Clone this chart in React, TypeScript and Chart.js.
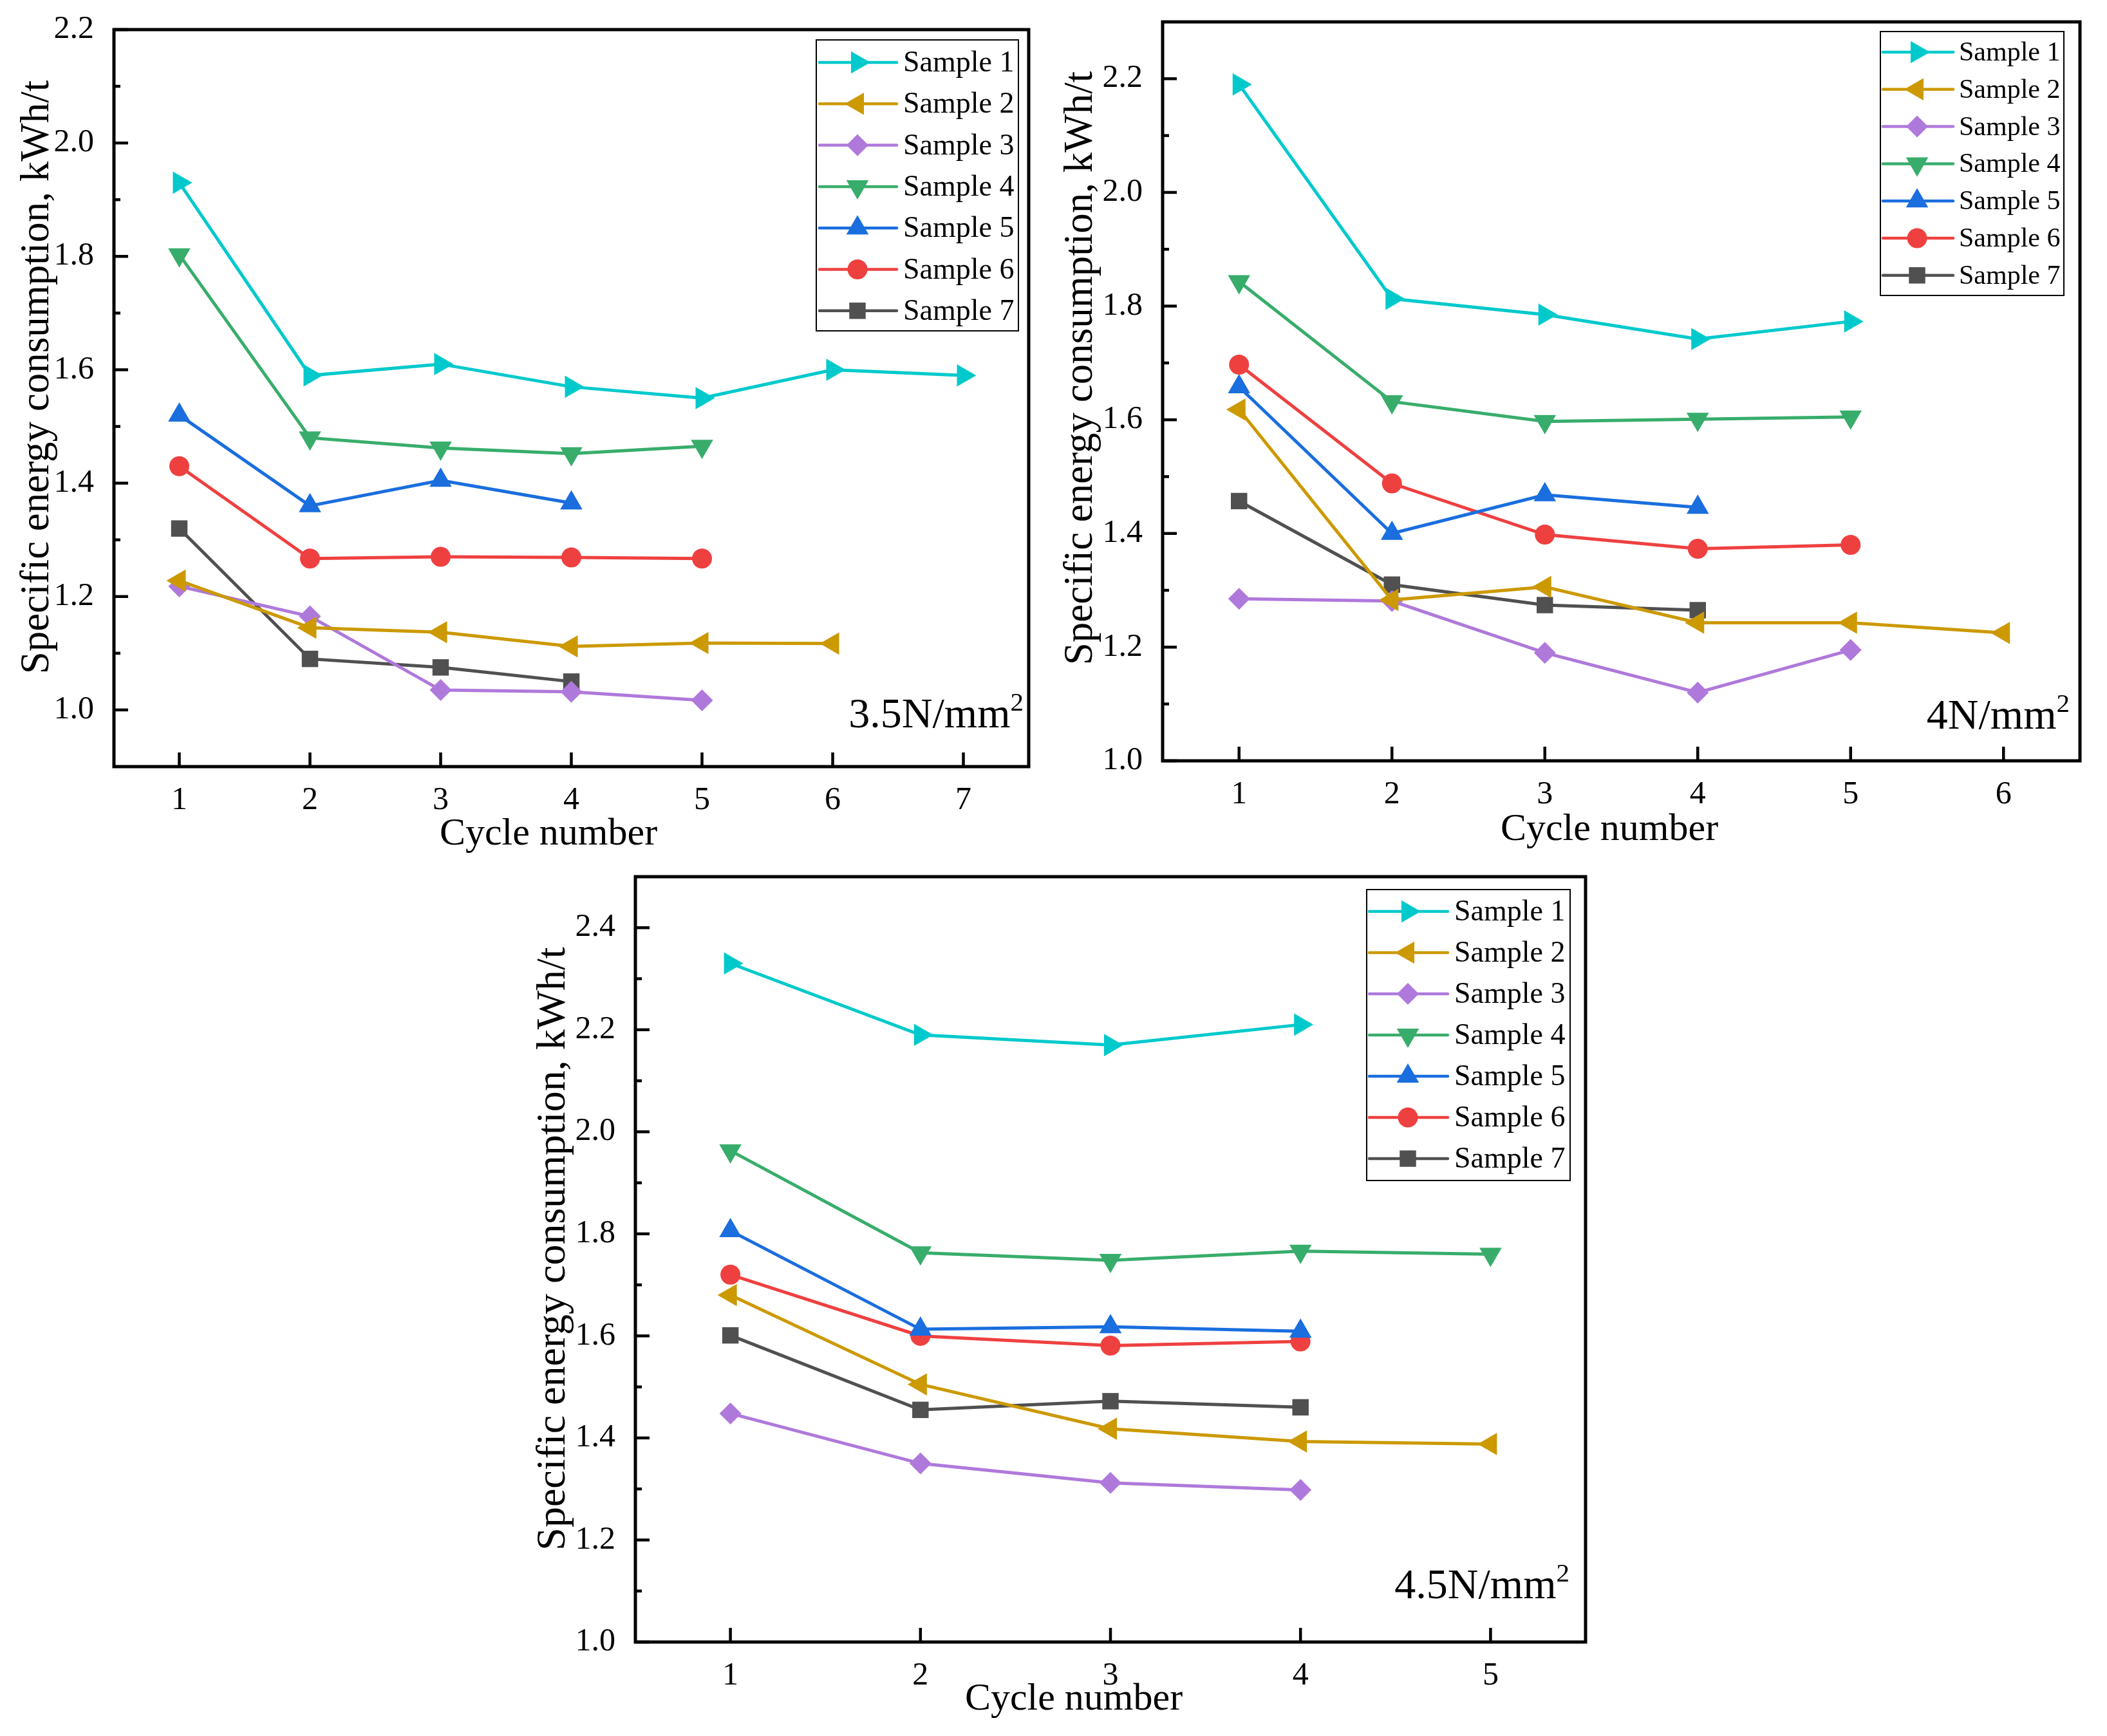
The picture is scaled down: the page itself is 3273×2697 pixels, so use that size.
import React, { useEffect, useRef } from 'react';
import { Chart, registerables } from 'chart.js';

Chart.register(...registerables);

const FONT = "'Liberation Serif', 'Times New Roman', serif";

const SAMPLE_NAMES = ['Sample 1', 'Sample 2', 'Sample 3', 'Sample 4', 'Sample 5', 'Sample 6', 'Sample 7'];
const SAMPLE_COLORS = ['#00C9CC', '#CC9900', '#AF79DB', '#38AD6B', '#1A6EDE', '#EF4040', '#505050'];
const POINT_STYLES = ['triangle', 'triangle', 'rectRot', 'triangle', 'triangle', 'circle', 'rect'];
const POINT_ROTATIONS = [90, -90, 0, 180, 0, 0, 0];
const POINT_RADII = [20, 20, 17, 20, 20, 15.5, 18];

// ---- Panel 1: 3.5 N/mm2 ----
const CYCLES_35 = [1, 2, 3, 4, 5, 6, 7];
const S1_35 = [1.93, 1.59, 1.61, 1.57, 1.55, 1.6, 1.59];
const S2_35 = [1.228, 1.145, 1.137, 1.112, 1.118, 1.117];
const S3_35 = [1.218, 1.165, 1.035, 1.032, 1.017];
const S4_35 = [1.803, 1.48, 1.462, 1.452, 1.465];
const S5_35 = [1.52, 1.36, 1.405, 1.365];
const S6_35 = [1.43, 1.267, 1.27, 1.269, 1.267];
const S7_35 = [1.32, 1.09, 1.075, 1.05];
const Y_TICKS_35 = [1.0, 1.2, 1.4, 1.6, 1.8, 2.0, 2.2];

// ---- Panel 2: 4 N/mm2 ----
const CYCLES_40 = [1, 2, 3, 4, 5, 6];
const S1_40 = [2.19, 1.813, 1.785, 1.742, 1.773];
const S2_40 = [1.618, 1.283, 1.306, 1.243, 1.243, 1.225];
const S3_40 = [1.285, 1.281, 1.19, 1.12, 1.195];
const S4_40 = [1.843, 1.632, 1.597, 1.601, 1.605];
const S5_40 = [1.658, 1.4, 1.468, 1.446];
const S6_40 = [1.697, 1.488, 1.398, 1.373, 1.38];
const S7_40 = [1.457, 1.31, 1.274, 1.265];
const Y_TICKS_40 = [1.0, 1.2, 1.4, 1.6, 1.8, 2.0, 2.2];

// ---- Panel 3: 4.5 N/mm2 ----
const CYCLES_45 = [1, 2, 3, 4, 5];
const S1_45 = [2.33, 2.19, 2.17, 2.21];
const S2_45 = [1.68, 1.505, 1.418, 1.393, 1.388];
const S3_45 = [1.448, 1.35, 1.312, 1.298];
const S4_45 = [1.963, 1.763, 1.748, 1.766, 1.76];
const S5_45 = [1.806, 1.613, 1.618, 1.609];
const S6_45 = [1.72, 1.6, 1.581, 1.589];
const S7_45 = [1.601, 1.455, 1.472, 1.46];
const Y_TICKS_45 = [1.0, 1.2, 1.4, 1.6, 1.8, 2.0, 2.2, 2.4];

const X_TITLE = 'Cycle number';
const Y_TITLE = 'Specific energy consumption, kWh/t';

type Panel = {
  series: number[][];
  cycles: number[];
  yTicks: number[];
  xMax: number;
  yMin: number;
  yMax: number;
  pressure: string;
  // layout (page pixels)
  L: number; T: number; R: number; B: number;
  xAxisH: number;
  xTitle: { cx: number; base: number };
  yTitle: { cx: number; cy: number; size: number };
  legend: { left: number; top: number; right: number; bottom: number; row0: number; dy: number; x0: number; x1: number; mx: number; tx: number; font: number };
  label: { xEnd: number; base: number; size: number };
};

const PANELS: Panel[] = [
  {
    series: [S1_35, S2_35, S3_35, S4_35, S5_35, S6_35, S7_35],
    cycles: CYCLES_35, yTicks: Y_TICKS_35, xMax: 7.5, yMin: 0.9, yMax: 2.2, pressure: '3.5N/mm',
    L: 177, T: 46, R: 1598, B: 1191, xAxisH: 150,
    xTitle: { cx: 852, base: 1312 },
    yTitle: { cx: 58, cy: 586, size: 63 },
    legend: { left: 1268, top: 62, right: 1582, bottom: 514, row0: 97, dy: 64.3, x0: 1273, x1: 1393, mx: 1332, tx: 1403, font: 46 },
    label: { xEnd: 1590, base: 1130, size: 66 },
  },
  {
    series: [S1_40, S2_40, S3_40, S4_40, S5_40, S6_40, S7_40],
    cycles: CYCLES_40, yTicks: Y_TICKS_40, xMax: 6.5, yMin: 1.0, yMax: 2.3, pressure: '4N/mm',
    L: 1806, T: 34, R: 3231, B: 1182, xAxisH: 150,
    xTitle: { cx: 2500, base: 1305 },
    yTitle: { cx: 1679, cy: 572, size: 63 },
    legend: { left: 2921, top: 49, right: 3206, bottom: 459, row0: 81, dy: 57.8, x0: 2925, x1: 3034, mx: 2978, tx: 3043, font: 42 },
    label: { xEnd: 3215, base: 1132, size: 66 },
  },
  {
    series: [S1_45, S2_45, S3_45, S4_45, S5_45, S6_45, S7_45],
    cycles: CYCLES_45, yTicks: Y_TICKS_45, xMax: 5.5, yMin: 1.0, yMax: 2.5, pressure: '4.5N/mm',
    L: 987, T: 1362, R: 2463, B: 2551, xAxisH: 130,
    xTitle: { cx: 1668, base: 2656 },
    yTitle: { cx: 860, cy: 1940, size: 64 },
    legend: { left: 2123, top: 1382, right: 2439, bottom: 1834, row0: 1416, dy: 64, x0: 2127, x1: 2249, mx: 2187, tx: 2259, font: 46 },
    label: { xEnd: 2438, base: 2483, size: 66 },
  },
];

const PAD_LEFT = 170;
const PAD_TOP = 60;
const PAD_RIGHT = 20;

function drawMarker(ctx: CanvasRenderingContext2D, style: string, rotDeg: number, r: number, x: number, y: number) {
  ctx.beginPath();
  if (style === 'triangle') {
    let a = (rotDeg * Math.PI) / 180;
    ctx.moveTo(x + Math.sin(a) * r, y - Math.cos(a) * r);
    a += (2 * Math.PI) / 3;
    ctx.lineTo(x + Math.sin(a) * r, y - Math.cos(a) * r);
    a += (2 * Math.PI) / 3;
    ctx.lineTo(x + Math.sin(a) * r, y - Math.cos(a) * r);
    ctx.closePath();
  } else if (style === 'rectRot') {
    ctx.moveTo(x - r, y);
    ctx.lineTo(x, y - r);
    ctx.lineTo(x + r, y);
    ctx.lineTo(x, y + r);
    ctx.closePath();
  } else if (style === 'circle') {
    ctx.arc(x, y, r, 0, Math.PI * 2);
  } else {
    const s = r * Math.SQRT1_2;
    ctx.rect(x - s, y - s, 2 * s, 2 * s);
  }
  ctx.fill();
}

function makeDecor(p: Panel, offX: number, offY: number) {
  return {
    id: 'decor',
    afterDraw(chart: any) {
      const ctx: CanvasRenderingContext2D = chart.ctx;
      const { left, top, right, bottom } = chart.chartArea;
      const xs = chart.scales.x;
      const ys = chart.scales.y;
      ctx.save();
      // ticks (inward)
      ctx.strokeStyle = '#000';
      ctx.lineCap = 'butt';
      ctx.lineWidth = 4.5;
      const seg = (x1: number, y1: number, x2: number, y2: number) => {
        ctx.beginPath();
        ctx.moveTo(x1, y1);
        ctx.lineTo(x2, y2);
        ctx.stroke();
      };
      const majors = p.yTicks.map((v) => Math.round(v * 10));
      const kMin = Math.round(p.yMin * 10);
      const kMax = Math.round(p.yMax * 10);
      for (let k = kMin; k <= kMax; k++) {
        const y = ys.getPixelForValue(k / 10);
        if (majors.includes(k)) seg(left, y, left + 22, y);
        else if (k !== kMin && k !== kMax) seg(left, y, left + 10, y);
      }
      p.cycles.forEach((c) => {
        const x = xs.getPixelForValue(c);
        seg(x, bottom, x, bottom - 22);
      });
      // frame
      ctx.lineWidth = 5;
      ctx.lineJoin = 'miter';
      ctx.strokeRect(left, top, right - left, bottom - top);

      // axis titles
      ctx.fillStyle = '#000';
      ctx.textAlign = 'center';
      ctx.textBaseline = 'alphabetic';
      ctx.font = `60px ${FONT}`;
      ctx.fillText(X_TITLE, p.xTitle.cx - offX, p.xTitle.base - offY);
      ctx.save();
      ctx.translate(p.yTitle.cx - offX, p.yTitle.cy - offY);
      ctx.rotate(-Math.PI / 2);
      ctx.textBaseline = 'middle';
      ctx.font = `${p.yTitle.size}px ${FONT}`;
      ctx.fillText(Y_TITLE, 0, 0);
      ctx.restore();

      // legend
      const lg = p.legend;
      ctx.strokeStyle = '#000';
      ctx.lineWidth = 2;
      ctx.strokeRect(lg.left - offX, lg.top - offY, lg.right - lg.left, lg.bottom - lg.top);
      ctx.font = `${lg.font}px ${FONT}`;
      ctx.textBaseline = 'middle';
      ctx.textAlign = 'left';
      SAMPLE_NAMES.forEach((name, i) => {
        const y = lg.row0 + i * lg.dy - offY;
        ctx.strokeStyle = SAMPLE_COLORS[i];
        ctx.fillStyle = SAMPLE_COLORS[i];
        ctx.lineWidth = 4.5;
        ctx.lineCap = 'round';
        seg(lg.x0 - offX, y, lg.x1 - offX, y);
        drawMarker(ctx, POINT_STYLES[i], POINT_ROTATIONS[i], POINT_RADII[i], lg.mx - offX, y);
        ctx.fillStyle = '#000';
        ctx.fillText(name, lg.tx - offX, y + 2);
      });

      // pressure label with superscript
      const lb = p.label;
      ctx.fillStyle = '#000';
      ctx.textBaseline = 'alphabetic';
      const supSize = Math.round(lb.size * 0.62);
      ctx.font = `${supSize}px ${FONT}`;
      const wSup = ctx.measureText('2').width;
      ctx.font = `${lb.size}px ${FONT}`;
      const wMain = ctx.measureText(p.pressure).width;
      const xEnd = lb.xEnd - offX;
      const base = lb.base - offY;
      ctx.fillText(p.pressure, xEnd - wSup - wMain, base);
      ctx.font = `${supSize}px ${FONT}`;
      ctx.fillText('2', xEnd - wSup, base - lb.size * 0.4);
      ctx.restore();
    },
  };
}

function ChartPanel({ p }: { p: Panel }) {
  const ref = useRef<HTMLCanvasElement>(null);
  const cLeft = p.L - PAD_LEFT;
  const cTop = p.T - PAD_TOP;
  const cW = p.R - p.L + PAD_LEFT + PAD_RIGHT;
  const cH = p.B - p.T + PAD_TOP + p.xAxisH;

  useEffect(() => {
    if (!ref.current) return;
    const datasets = p.series.map((vals, i) => ({
      label: SAMPLE_NAMES[i],
      data: vals.map((v, j) => ({ x: p.cycles[j], y: v })),
      borderColor: SAMPLE_COLORS[i],
      backgroundColor: SAMPLE_COLORS[i],
      borderWidth: 5,
      tension: 0,
      pointStyle: POINT_STYLES[i],
      pointRotation: POINT_ROTATIONS[i],
      pointRadius: POINT_RADII[i],
      pointBorderWidth: 0,
      pointBackgroundColor: SAMPLE_COLORS[i],
      pointBorderColor: SAMPLE_COLORS[i],
      fill: false,
    }));
    const chart = new Chart(ref.current, {
      type: 'line',
      data: { datasets },
      options: {
        animation: false,
        responsive: false,
        devicePixelRatio: 1,
        events: [],
        layout: { padding: { left: 0, top: PAD_TOP, right: PAD_RIGHT, bottom: 0 } },
        plugins: { legend: { display: false }, tooltip: { enabled: false } },
        scales: {
          x: {
            type: 'linear',
            min: 0.5,
            max: p.xMax,
            grid: { display: false },
            border: { display: false },
            afterBuildTicks: (s: any) => {
              s.ticks = p.cycles.map((v) => ({ value: v }));
            },
            afterFit: (s: any) => {
              s.height = p.xAxisH;
            },
            ticks: {
              color: '#000',
              font: { family: FONT, size: 50 },
              padding: 15,
              maxRotation: 0,
              autoSkip: false,
              callback: (v: any) => String(v),
            },
            title: { display: false },
          },
          y: {
            type: 'linear',
            min: p.yMin,
            max: p.yMax,
            grid: { display: false },
            border: { display: false },
            afterBuildTicks: (s: any) => {
              s.ticks = p.yTicks.map((v) => ({ value: v }));
            },
            afterFit: (s: any) => {
              s.width = PAD_LEFT;
            },
            ticks: {
              color: '#000',
              font: { family: FONT, size: 50 },
              padding: 23,
              autoSkip: false,
              callback: (v: any) => Number(v).toFixed(1),
            },
            title: { display: false },
          },
        },
      },
      plugins: [makeDecor(p, cLeft, cTop)],
    } as any);
    return () => chart.destroy();
  }, []);

  return (
    <canvas
      ref={ref}
      width={cW}
      height={cH}
      style={{ position: 'absolute', left: cLeft, top: cTop, width: cW, height: cH }}
    />
  );
}

export default function App() {
  return (
    <div
      style={{
        position: 'absolute',
        left: 0,
        top: 0,
        width: 3273,
        height: 2697,
        overflow: 'hidden',
        background: '#fff',
      }}
    >
      {PANELS.map((p, i) => (
        <ChartPanel key={i} p={p} />
      ))}
    </div>
  );
}
